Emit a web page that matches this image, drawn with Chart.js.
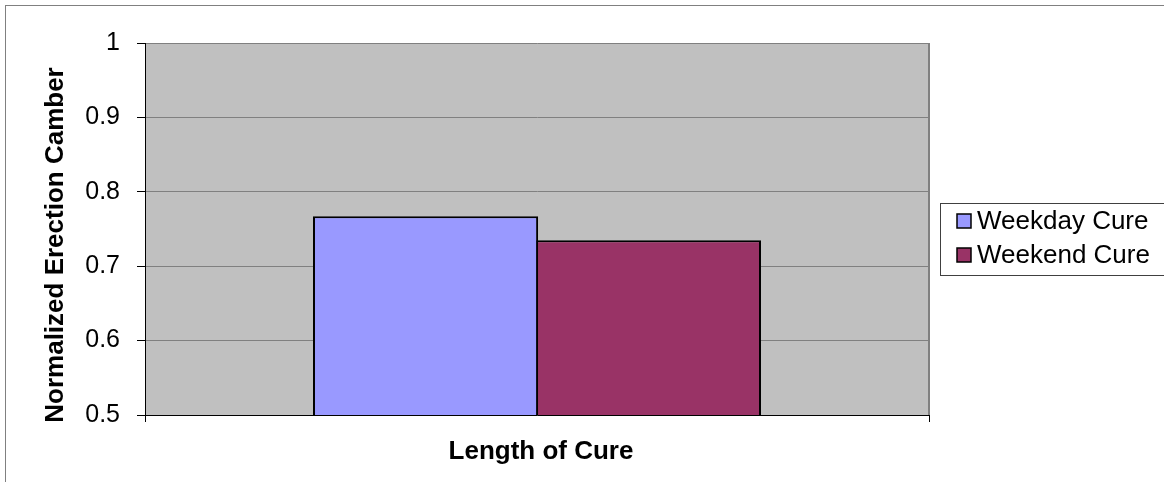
<!DOCTYPE html>
<html>
<head>
<meta charset="utf-8">
<script src="https://cdn.jsdelivr.net/npm/chart.js@4.4.0/dist/chart.umd.min.js"></script>
<style>
  html, body { margin: 0; padding: 0; background: #fff; }
  #wrap { width: 1164px; height: 482px; position: relative; }
</style>
</head>
<body>
<div id="wrap"><canvas id="c" width="1164" height="482"></canvas></div>
<script>
// Chart data
const categories = [''];
const seriesNames = ['Weekday Cure', 'Weekend Cure'];
const weekdayCure = [0.767];
const weekendCure = [0.735];
const yTickValues = [0.5, 0.6, 0.7, 0.8, 0.9, 1];
const xAxisTitle = 'Length of Cure';
const yAxisTitle = 'Normalized Erection Camber';

const seriesColors = ['#9999FF', '#993366'];
const FONT = '"Liberation Sans", Arial, Helvetica, sans-serif';

// Frame, plot background, titles and a boxed legend
const decorations = {
  id: 'decorations',
  beforeDraw(chart) {
    const { ctx, chartArea: a } = chart;
    ctx.save();
    ctx.fillStyle = '#fff';
    ctx.fillRect(0, 0, chart.width, chart.height);
    ctx.strokeStyle = '#808080';
    ctx.lineWidth = 1;
    ctx.strokeRect(5.5, 5.5, chart.width + 20, chart.height + 20);
    ctx.fillStyle = '#C0C0C0';
    ctx.fillRect(a.left, a.top, a.right - a.left, a.bottom - a.top);
    ctx.restore();
  },
  beforeDatasetsDraw(chart) {
    const { ctx, chartArea: a } = chart;
    ctx.save();
    ctx.strokeStyle = '#808080';
    ctx.lineWidth = 2;
    ctx.beginPath();
    ctx.moveTo(a.right, a.top);
    ctx.lineTo(a.right, a.bottom);
    ctx.stroke();
    ctx.restore();
  },
  afterDraw(chart) {
    const { ctx, chartArea: a } = chart;
    ctx.save();
    ctx.fillStyle = '#000';

    // x-axis title
    ctx.font = 'bold 26px ' + FONT;
    ctx.textAlign = 'center';
    ctx.textBaseline = 'alphabetic';
    ctx.fillText(xAxisTitle, (a.left + a.right) / 2 + 4, a.bottom + 44);

    // y-axis title
    ctx.save();
    ctx.translate(63, (a.top + a.bottom) / 2 + 16);
    ctx.rotate(-Math.PI / 2);
    ctx.font = 'bold 26px ' + FONT;
    ctx.textAlign = 'center';
    ctx.textBaseline = 'alphabetic';
    ctx.fillText(yAxisTitle, 0, 0);
    ctx.restore();

    // legend box
    const lx = a.right + 11, ly = 203;
    ctx.strokeStyle = '#404040';
    ctx.lineWidth = 1;
    ctx.strokeRect(lx + 0.5, ly + 0.5, 240, 72);
    ctx.font = '26px ' + FONT;
    ctx.textAlign = 'left';
    chart.data.datasets.forEach((ds, i) => {
      const rowY = ly + 18 + i * 34;
      ctx.fillStyle = ds.backgroundColor;
      ctx.fillRect(lx + 17, rowY - 7, 14, 14);
      ctx.strokeStyle = '#000';
      ctx.lineWidth = 1.5;
      ctx.strokeRect(lx + 17, rowY - 7, 14, 14);
      ctx.fillStyle = '#000';
      ctx.fillText(ds.label, lx + 37, rowY + 8);
    });
    ctx.restore();
  }
};

new Chart(document.getElementById('c'), {
  type: 'bar',
  data: {
    labels: categories,
    datasets: [
      { label: seriesNames[0], data: weekdayCure, backgroundColor: seriesColors[0] },
      { label: seriesNames[1], data: weekendCure, backgroundColor: seriesColors[1] }
    ]
  },
  options: {
    responsive: false,
    animation: false,
    devicePixelRatio: 1,
    layout: { padding: { left: 0, right: 235, top: 43, bottom: 0 } },
    datasets: {
      bar: {
        borderColor: '#000',
        borderWidth: 2,
        borderSkipped: false,
        barPercentage: 1.01,
        categoryPercentage: 0.5686
      }
    },
    plugins: {
      legend: { display: false },
      tooltip: { enabled: false },
      title: { display: false }
    },
    scales: {
      x: {
        offset: true,
        ticks: { display: false },
        grid: {
          display: true,
          offset: true,
          drawOnChartArea: false,
          drawTicks: true,
          tickLength: 7,
          color: '#000',
          tickColor: '#000'
        },
        border: { display: true, color: '#000', width: 1 },
        afterFit(scale) { scale.height = 482 - 415; }
      },
      y: {
        min: 0.5,
        max: 1,
        afterBuildTicks(scale) { scale.ticks = yTickValues.map(v => ({ value: v })); },
        afterFit(scale) { scale.width = 145; },
        ticks: {
          color: '#000',
          padding: 17,
          font: { family: FONT, size: 25 },
          callback: v => String(Math.round(v * 10) / 10)
        },
        grid: {
          color: '#808080',
          tickColor: '#000',
          tickLength: 8,
          lineWidth: 1
        },
        border: { display: true, color: '#000', width: 1 }
      }
    }
  },
  plugins: [decorations]
});
</script>
</body>
</html>
